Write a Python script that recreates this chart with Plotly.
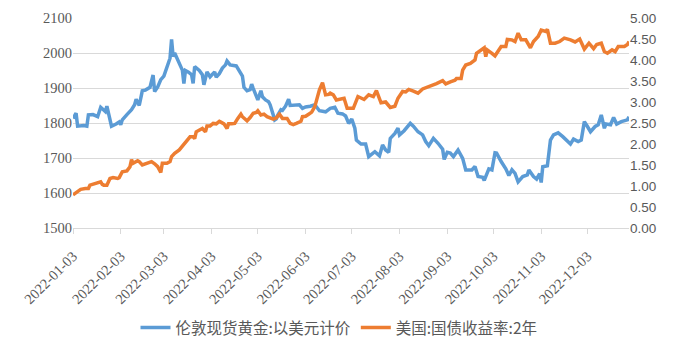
import pandas as pd
import plotly.graph_objects as go

start_date = "2022-01-03"

gold_day = [0, 2, 3, 7, 9, 10, 13, 16, 18, 20, 21, 22, 23, 25, 28, 30, 31, 32, 35, 37, 38, 40, 41, 43, 44, 45, 47, 50, 52, 53, 55, 57, 59, 61, 63, 64, 65, 66, 68, 70, 71, 72, 73, 75, 77, 78, 79, 82, 84, 85, 87, 89, 92, 93, 95, 97, 99, 100, 102, 106, 108, 110, 111, 113, 115, 116, 117, 118, 119, 120, 122, 123, 125, 127, 128, 130, 131, 132, 133, 135, 136, 138, 140, 141, 143, 145, 147, 149, 151, 154, 157, 160, 164, 167, 170, 172, 175, 177, 179, 181, 183, 184, 187, 190, 192, 194, 196, 199, 201, 203, 205, 206, 209, 211, 212, 215, 219, 221, 224, 227, 229, 231, 234, 237, 240, 241, 243, 245, 247, 250, 253, 255, 259, 261, 263, 266, 267, 270, 272, 274, 275, 278, 281, 283, 285, 287, 289, 292, 295, 296, 299, 301, 303, 304, 305, 308, 310, 312, 315, 318, 321, 323, 325, 328, 330, 332, 334, 336, 339, 341, 343, 345, 346, 349, 351, 353, 356, 360, 361]
gold_value = [1813, 1828, 1791, 1793, 1791, 1823, 1824, 1818, 1845, 1838, 1833, 1848, 1830, 1791, 1797, 1803, 1795, 1809, 1824, 1833, 1838, 1852, 1868, 1850, 1867, 1892, 1894, 1902, 1937, 1890, 1903, 1924, 1934, 1961, 1985, 2039, 1990, 2000, 1980, 1966, 1951, 1913, 1950, 1945, 1938, 1913, 1961, 1950, 1938, 1909, 1946, 1932, 1946, 1931, 1941, 1957, 1966, 1977, 1966, 1963, 1946, 1934, 1902, 1892, 1895, 1911, 1899, 1887, 1875, 1866, 1892, 1875, 1866, 1861, 1852, 1828, 1809, 1812, 1823, 1838, 1836, 1848, 1868, 1850, 1850, 1852, 1852, 1842, 1846, 1848, 1852, 1835, 1832, 1842, 1845, 1828, 1826, 1820, 1799, 1811, 1785, 1751, 1740, 1740, 1704, 1711, 1718, 1706, 1737, 1723, 1716, 1756, 1770, 1785, 1766, 1778, 1799, 1791, 1775, 1766, 1747, 1735, 1756, 1742, 1725, 1696, 1716, 1714, 1704, 1723, 1699, 1666, 1666, 1676, 1647, 1645, 1636, 1669, 1666, 1715, 1714, 1690, 1669, 1650, 1666, 1656, 1632, 1647, 1652, 1666, 1647, 1640, 1655, 1630, 1675, 1678, 1751, 1766, 1772, 1761, 1747, 1740, 1754, 1747, 1751, 1804, 1790, 1775, 1790, 1795, 1823, 1785, 1797, 1795, 1816, 1797, 1804, 1809, 1818]

yield_day = [0, 3, 5, 8, 10, 11, 15, 17, 18, 19, 20, 22, 24, 26, 29, 30, 32, 35, 37, 38, 39, 42, 43, 45, 48, 51, 53, 55, 57, 58, 61, 63, 64, 66, 69, 71, 72, 74, 76, 78, 79, 80, 82, 84, 86, 87, 89, 91, 93, 95, 96, 98, 100, 101, 103, 105, 107, 109, 110, 113, 115, 117, 119, 120, 122, 124, 126, 128, 130, 132, 134, 136, 139, 141, 143, 145, 148, 149, 151, 153, 155, 157, 160, 162, 164, 166, 167, 169, 171, 176, 178, 182, 185, 189, 192, 195, 197, 200, 203, 206, 209, 211, 214, 216, 218, 221, 224, 227, 230, 233, 236, 240, 242, 245, 248, 249, 252, 253, 255, 258, 261, 262, 265, 267, 268, 269, 272, 274, 278, 281, 282, 285, 287, 289, 291, 294, 297, 299, 302, 304, 307, 308, 310, 313, 316, 319, 323, 326, 329, 332, 335, 338, 340, 343, 345, 347, 350, 352, 354, 358, 360, 361]
yield_value = [0.79, 0.87, 0.92, 0.94, 0.94, 1.02, 1.06, 1.09, 1.10, 1.04, 1.02, 1.02, 1.18, 1.20, 1.18, 1.20, 1.34, 1.36, 1.46, 1.63, 1.54, 1.60, 1.58, 1.50, 1.54, 1.58, 1.53, 1.46, 1.32, 1.54, 1.54, 1.58, 1.70, 1.78, 1.86, 1.94, 1.98, 2.06, 2.17, 2.17, 2.13, 2.29, 2.33, 2.37, 2.29, 2.43, 2.43, 2.49, 2.48, 2.54, 2.52, 2.48, 2.37, 2.48, 2.48, 2.49, 2.61, 2.71, 2.65, 2.55, 2.63, 2.73, 2.75, 2.79, 2.69, 2.71, 2.65, 2.61, 2.59, 2.62, 2.71, 2.61, 2.61, 2.49, 2.46, 2.49, 2.54, 2.65, 2.66, 2.71, 2.76, 2.89, 3.29, 3.46, 3.17, 3.18, 3.21, 3.17, 3.05, 3.09, 2.85, 2.85, 3.13, 3.06, 3.17, 3.13, 3.27, 2.98, 3.00, 2.87, 2.90, 3.09, 3.25, 3.24, 3.30, 3.26, 3.21, 3.31, 3.35, 3.40, 3.44, 3.51, 3.43, 3.48, 3.52, 3.56, 3.56, 3.76, 3.88, 3.92, 4.00, 4.16, 4.24, 4.29, 4.08, 4.24, 4.16, 4.10, 4.32, 4.32, 4.49, 4.48, 4.44, 4.64, 4.48, 4.48, 4.29, 4.44, 4.56, 4.71, 4.68, 4.73, 4.40, 4.40, 4.44, 4.52, 4.48, 4.43, 4.50, 4.26, 4.40, 4.27, 4.37, 4.40, 4.20, 4.16, 4.24, 4.20, 4.32, 4.32, 4.37, 4.44]

tick_dates = ["2022-01-03", "2022-02-03", "2022-03-03", "2022-04-03", "2022-05-03", "2022-06-03",
              "2022-07-03", "2022-08-03", "2022-09-03", "2022-10-03", "2022-11-03", "2022-12-03"]
end_date = "2022-12-30"

gold_name = "伦敦现货黄金:以美元计价"
yield_name = "美国:国债收益率:2年"

t0 = pd.Timestamp(start_date)
gold_dates = t0 + pd.to_timedelta(gold_day, unit="D")
yield_dates = t0 + pd.to_timedelta(yield_day, unit="D")

fig = go.Figure()
fig.add_trace(go.Scatter(x=gold_dates, y=gold_value, name=gold_name, mode="lines",
                         line=dict(color="#5b9bd5", width=3.5), yaxis="y"))
fig.add_trace(go.Scatter(x=yield_dates, y=yield_value, name=yield_name, mode="lines",
                         line=dict(color="#ed7d31", width=3.5), yaxis="y2"))

grey = "#595959"
fig.update_layout(
    width=678, height=353,
    margin=dict(l=73, r=49, t=18, b=125, autoexpand=False),
    paper_bgcolor="white", plot_bgcolor="white",
    showlegend=True,
    legend=dict(orientation="h", xref="container", yref="container",
                x=0.5, xanchor="center", y=0.071, yanchor="middle",
                font=dict(family="Noto Sans CJK SC", size=15.5, color=grey),
                itemwidth=30, tracegroupgap=0),
    xaxis=dict(type="date", range=[start_date, end_date], automargin=False,
               tickvals=tick_dates, ticktext=tick_dates, tickangle=-45,
               showgrid=False, showline=True, linecolor="#d9d9d9", linewidth=1,
               ticks="outside", ticklen=5, tickcolor="#d9d9d9", ticklabelstandoff=8,
               tickfont=dict(family="Liberation Serif", size=14.5, color=grey)),
    yaxis=dict(range=[1500, 2100], dtick=100, tick0=1500, showgrid=True, gridcolor="#d9d9d9",
               zeroline=False, showline=False, ticks="", automargin=False,
               tickfont=dict(family="Liberation Serif", size=14.5, color=grey)),
    yaxis2=dict(range=[0, 5], dtick=0.5, tick0=0, tickformat=".2f", overlaying="y", side="right",
                showgrid=False, zeroline=False, showline=False, ticks="", automargin=False,
                tickfont=dict(family="Liberation Sans", size=13.5, color=grey)),
)

fig.write_html("out.html")
